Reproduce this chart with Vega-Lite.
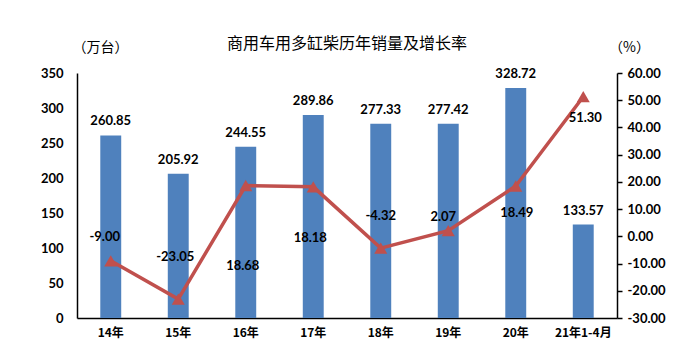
{
  "$schema": "https://vega.github.io/schema/vega-lite/v6.json",
  "autosize": "none",
  "width": 540,
  "height": 245,
  "padding": {"left": 77, "top": 73, "right": 82, "bottom": 46},
  "background": "white",
  "config": {
    "view": {"stroke": null},
    "locale": {"number": {"decimal": ".", "thousands": ",", "grouping": [3], "currency": ["$", ""], "minus": "-"}}
  },
  "title": {
    "text": "商用车用多缸柴历年销量及增长率",
    "font": "Noto Sans CJK SC",
    "fontSize": 16,
    "fontWeight": "normal",
    "color": "#000000",
    "anchor": "middle",
    "offset": -12
  },
  "data": {
    "values": [
      {"year": "14年", "sales": 260.85, "growth": -9.00},
      {"year": "15年", "sales": 205.92, "growth": -23.05},
      {"year": "16年", "sales": 244.55, "growth": 18.68},
      {"year": "17年", "sales": 289.86, "growth": 18.18},
      {"year": "18年", "sales": 277.33, "growth": -4.32},
      {"year": "19年", "sales": 277.42, "growth": 2.07},
      {"year": "20年", "sales": 328.72, "growth": 18.49},
      {"year": "21年1-4月", "sales": 133.57, "growth": 51.30}
    ]
  },
  "encoding": {
    "x": {
      "field": "year",
      "type": "nominal",
      "sort": null,
      "scale": {"paddingInner": 0.69, "paddingOuter": 0.345},
      "axis": {
        "title": null,
        "labelAngle": 0,
        "ticks": false,
        "domainColor": "#000000",
        "domainWidth": 1.5,
        "labelFont": "Noto Sans CJK SC",
        "labelFontSize": 12,
        "labelFontWeight": "bold",
        "labelColor": "#000000",
        "labelPadding": 9,
        "labelOverlap": false
      }
    }
  },
  "layer": [
    {
      "encoding": {
        "y": {
          "field": "sales",
          "type": "quantitative",
          "scale": {"domain": [0, 350], "nice": false},
          "axis": {
            "title": "（万台）",
            "titleAngle": 0,
            "titleX": 23,
            "titleY": -26,
            "titleAlign": "center",
            "titleBaseline": "middle",
            "titleFont": "Noto Sans CJK SC",
            "titleFontSize": 14,
            "titleFontWeight": "normal",
            "titleColor": "#000000",
            "values": [0, 50, 100, 150, 200, 250, 300, 350],
            "labelOverlap": false,
            "grid": false,
            "ticks": false,
            "domainColor": "#000000",
            "domainWidth": 1.5,
            "labelFont": "Lato",
            "labelFontSize": 13,
            "labelFontWeight": "bold",
            "labelColor": "#000000",
            "labelPadding": 14
          }
        }
      },
      "layer": [
        {
          "mark": {"type": "bar", "color": "#4F81BD"}
        },
        {
          "mark": {"type": "text", "baseline": "bottom", "dy": -7, "font": "Lato", "fontSize": 13, "fontWeight": "bold", "color": "#000000"},
          "encoding": {
            "text": {"field": "sales", "type": "quantitative", "format": ".2f"}
          }
        }
      ]
    },
    {
      "encoding": {
        "y": {
          "field": "growth",
          "type": "quantitative",
          "scale": {"domain": [-30, 60], "nice": false},
          "axis": {
            "orient": "right",
            "title": "（%）",
            "titleAngle": 0,
            "titleX": 12,
            "titleY": -26,
            "titleAlign": "center",
            "titleBaseline": "middle",
            "titleFont": "Noto Sans CJK SC",
            "titleFontSize": 14,
            "titleFontWeight": "normal",
            "titleColor": "#000000",
            "values": [-30, -20, -10, 0, 10, 20, 30, 40, 50, 60],
            "labelOverlap": false,
            "format": ".2f",
            "grid": false,
            "ticks": true,
            "tickSize": 5,
            "tickColor": "#000000",
            "tickWidth": 1.5,
            "domainColor": "#000000",
            "domainWidth": 1.5,
            "labelFont": "Lato",
            "labelFontSize": 13,
            "labelFontWeight": "bold",
            "labelColor": "#000000",
            "labelPadding": 5
          }
        }
      },
      "layer": [
        {
          "mark": {"type": "line", "color": "#C0504D", "strokeWidth": 3.5}
        },
        {
          "mark": {"type": "point", "shape": "triangle-up", "filled": true, "opacity": 1, "color": "#C0504D", "size": 170}
        },
        {
          "transform": [{"filter": "datum.year == '14年'"}],
          "mark": {"type": "text", "dx": -6, "dy": -24, "font": "Lato", "fontSize": 13, "fontWeight": "bold", "color": "#000000"},
          "encoding": {"text": {"field": "growth", "type": "quantitative", "format": ".2f"}}
        },
        {
          "transform": [{"filter": "datum.year == '15年'"}],
          "mark": {"type": "text", "dx": -3, "dy": -42, "font": "Lato", "fontSize": 13, "fontWeight": "bold", "color": "#000000"},
          "encoding": {"text": {"field": "growth", "type": "quantitative", "format": ".2f"}}
        },
        {
          "transform": [{"filter": "datum.year == '16年'"}],
          "mark": {"type": "text", "dx": -3, "dy": 81, "font": "Lato", "fontSize": 13, "fontWeight": "bold", "color": "#000000"},
          "encoding": {"text": {"field": "growth", "type": "quantitative", "format": ".2f"}}
        },
        {
          "transform": [{"filter": "datum.year == '17年'"}],
          "mark": {"type": "text", "dx": -3, "dy": 51, "font": "Lato", "fontSize": 13, "fontWeight": "bold", "color": "#000000"},
          "encoding": {"text": {"field": "growth", "type": "quantitative", "format": ".2f"}}
        },
        {
          "transform": [{"filter": "datum.year == '18年'"}],
          "mark": {"type": "text", "dx": 0, "dy": -32, "font": "Lato", "fontSize": 13, "fontWeight": "bold", "color": "#000000"},
          "encoding": {"text": {"field": "growth", "type": "quantitative", "format": ".2f"}}
        },
        {
          "transform": [{"filter": "datum.year == '19年'"}],
          "mark": {"type": "text", "dx": -5, "dy": -14, "font": "Lato", "fontSize": 13, "fontWeight": "bold", "color": "#000000"},
          "encoding": {"text": {"field": "growth", "type": "quantitative", "format": ".2f"}}
        },
        {
          "transform": [{"filter": "datum.year == '20年'"}],
          "mark": {"type": "text", "dx": 1, "dy": 27, "font": "Lato", "fontSize": 13, "fontWeight": "bold", "color": "#000000"},
          "encoding": {"text": {"field": "growth", "type": "quantitative", "format": ".2f"}}
        },
        {
          "transform": [{"filter": "datum.year == '21年1-4月'"}],
          "mark": {"type": "text", "dx": 2, "dy": 21, "font": "Lato", "fontSize": 13, "fontWeight": "bold", "color": "#000000"},
          "encoding": {"text": {"field": "growth", "type": "quantitative", "format": ".2f"}}
        }
      ]
    }
  ],
  "resolve": {"scale": {"y": "independent"}}
}
